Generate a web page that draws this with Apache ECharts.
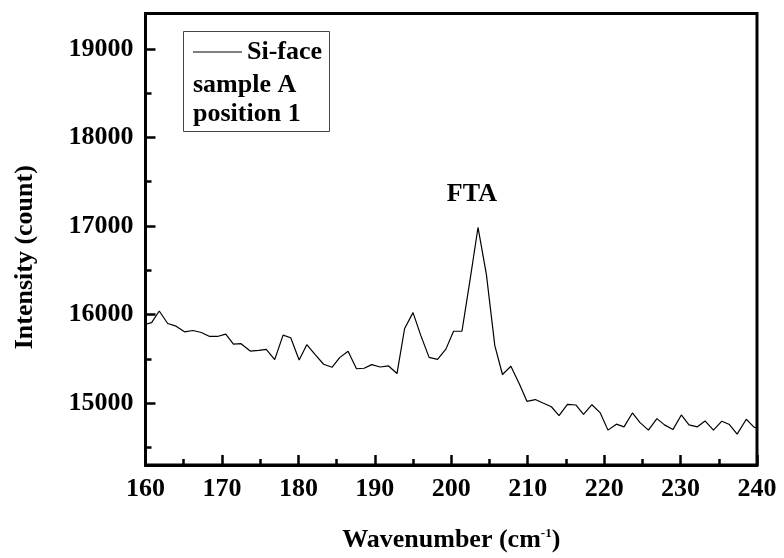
<!DOCTYPE html>
<html>
<head>
<meta charset="utf-8">
<script src="https://cdn.jsdelivr.net/npm/echarts@6/dist/echarts.min.js"></script>
<style>
html,body{margin:0;padding:0;background:#fff;}
#chart{width:784px;height:558px;}
</style>
</head>
<body>
<div id="chart"></div>
<script>
// Wavenumber (cm-1)
var wavenumber = [160.0,160.8,161.8,162.9,164.0,165.1,166.2,167.3,168.4,169.4,170.5,171.5,172.5,173.7,174.8,175.8,176.9,178.0,179.0,180.1,181.1,182.2,183.3,184.4,185.4,186.5,187.6,188.6,189.6,190.7,191.8,192.9,193.9,195.0,196.0,197.1,198.2,199.3,200.3,201.4,202.5,203.5,204.6,205.7,206.7,207.8,208.9,209.9,211.0,212.0,213.1,214.1,215.2,216.3,217.3,218.4,219.5,220.5,221.6,222.6,223.7,224.7,225.8,226.9,227.9,229.0,230.1,231.1,232.2,233.2,234.3,235.4,236.4,237.4,238.6,239.6,240.0];
// Intensity (count)
var intensity = [15890,15909,16040,15898,15868,15804,15819,15797,15752,15752,15778,15666,15670,15587,15595,15606,15490,15767,15737,15486,15659,15546,15438,15404,15513,15584,15387,15393,15434,15407,15419,15333,15842,16021,15767,15516,15494,15609,15811,15811,16414,16983,16451,15648,15322,15415,15217,15019,15039,15000,14958,14858,14985,14978,14873,14981,14888,14694,14761,14731,14888,14779,14694,14824,14753,14700,14865,14753,14731,14798,14694,14795,14757,14649,14817,14727,14720];
var yLabelValues = [15000,16000,17000,18000,19000];
var yMinorValues = [14500,15500,16500,17500,18500];
var seriesName = 'Si-face';
var legendLines = ['sample A','position 1'];
var peakLabel = {text:'FTA', x:202.7, y:17360};

var FONT = '"Liberation Serif","Times New Roman",serif';
var FS = 26;
var data = wavenumber.map(function(x,i){return [x,intensity[i]];});

var chart = echarts.init(document.getElementById('chart'), null, {renderer:'canvas'});
var txt = {fontFamily:FONT,fontWeight:'bold',fontSize:FS,color:'#000'};
chart.setOption({
  animation:false,
  backgroundColor:'#fff',
  grid:{left:145.5,right:27,top:13.5,bottom:89,show:true,borderWidth:3,borderColor:'#000',containLabel:false},
  xAxis:{
    type:'value',min:160,max:240,interval:10,
    axisLine:{show:true,lineStyle:{color:'#000',width:3}},
    axisTick:{show:true,inside:true,length:10,lineStyle:{color:'#000',width:2.5}},
    minorTick:{show:true,splitNumber:2,length:6,lineStyle:{color:'#000',width:2.5}},
    splitLine:{show:false},minorSplitLine:{show:false},
    axisLabel:Object.assign({margin:11,formatter:function(v){return String(v);}},txt),
    name:'{b|Wavenumber (cm}{s|-1}{b|)}',
    nameLocation:'middle',nameGap:62,
    nameTextStyle:{rich:{
      b:{fontFamily:FONT,fontWeight:'bold',fontSize:FS,color:'#000'},
      s:{fontFamily:FONT,fontWeight:'bold',fontSize:13,color:'#000',verticalAlign:'top',padding:[0,0,10,0]}
    }}
  },
  yAxis:[{
    type:'value',min:14300,max:19400,
    axisLine:{show:true,lineStyle:{color:'#000',width:3}},
    axisTick:{show:true,inside:true,length:10,customValues:yLabelValues,lineStyle:{color:'#000',width:2.5}},
    splitLine:{show:false},
    axisLabel:Object.assign({margin:12,customValues:yLabelValues,formatter:function(v){return String(v);}},txt),
    name:'Intensity (count)',nameLocation:'middle',nameGap:107,
    nameTextStyle:Object.assign({padding:[0,36,0,0]},txt)
  },{
    type:'value',min:14300,max:19400,position:'left',
    axisLine:{show:false},
    axisTick:{show:true,inside:true,length:6,customValues:yMinorValues,lineStyle:{color:'#000',width:2.5}},
    axisLabel:{show:false},splitLine:{show:false}
  }],
  series:[{
    name:seriesName,type:'line',data:data,xAxisIndex:0,yAxisIndex:0,
    showSymbol:false,symbol:'none',
    lineStyle:{color:'#000',width:1.2},
    markPoint:{
      symbol:'circle',symbolSize:0,
      label:{show:true,formatter:peakLabel.text,fontFamily:FONT,fontWeight:'bold',fontSize:FS,color:'#000',position:'inside'},
      data:[{coord:[peakLabel.x,peakLabel.y]}]
    }
  }],
  graphic:[
    {type:'rect',shape:{x:183.5,y:31.5,width:146,height:100},style:{fill:'#fff',stroke:'#444',lineWidth:1},z:50},
    {type:'line',shape:{x1:193,y1:52,x2:242,y2:52},style:{stroke:'#000',lineWidth:1.2},z:51},
    {type:'text',x:247,y:52,style:{text:seriesName,font:'bold '+FS+'px '+FONT,fill:'#000',verticalAlign:'middle'},z:51},
    {type:'text',x:193,y:85,style:{text:legendLines[0],font:'bold '+FS+'px '+FONT,fill:'#000',verticalAlign:'middle'},z:51},
    {type:'text',x:193,y:114,style:{text:legendLines[1],font:'bold '+FS+'px '+FONT,fill:'#000',verticalAlign:'middle'},z:51}
  ]
});
</script>
</body>
</html>
